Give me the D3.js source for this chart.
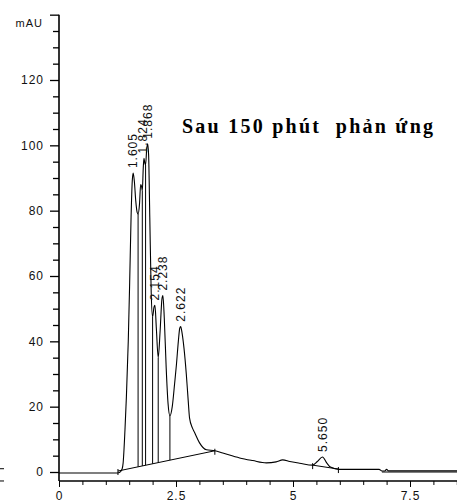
<!DOCTYPE html>
<html>
<head>
<meta charset="utf-8">
<script src="https://cdn.jsdelivr.net/npm/d3@7"></script>
<style>
  html, body { margin: 0; padding: 0; background: #fff; }
  svg { display: block; }
</style>
</head>
<body>
<div id="chart"></div>
<script>
// --- chromatogram trace (time in min, signal in mAU) ---
const traceT = [0, 1.25, 1.30, 1.35, 1.37, 1.41, 1.44, 1.48, 1.51, 1.54, 1.565, 1.585, 1.61, 1.64, 1.67, 1.69,
  1.72, 1.745, 1.77, 1.78, 1.80, 1.815, 1.835, 1.85, 1.875, 1.895, 1.915, 1.94, 1.97, 2.00, 2.03, 2.05, 2.08,
  2.12, 2.16, 2.20, 2.22, 2.25, 2.29, 2.33, 2.37, 2.42, 2.47, 2.51, 2.55, 2.58, 2.60, 2.63, 2.67, 2.72, 2.76,
  2.79, 2.85, 2.90, 3.00, 3.15, 3.33, 3.50, 3.86, 4.14, 4.43, 4.64, 4.78, 4.93, 5.14, 5.42, 5.52, 5.63, 5.72,
  5.80, 5.99, 6.84, 6.90, 6.96, 7.00, 7.04, 8.60];
const traceV = [-0.3, -0.3, -0.1, 1.0, 2.7, 13, 23, 40, 58, 78, 89, 91.5, 89, 83, 79.5, 79,
  82, 88, 87, 86, 93, 96, 94.5, 94, 99, 100.5, 97, 78, 55, 47.5, 50.5, 51, 44,
  35, 43, 53, 54, 47, 32, 21, 17.2, 20, 27, 33, 40, 44, 44.5, 42.5, 38, 30, 22,
  16.5, 13.5, 12, 9, 6.8, 6.5, 5.8, 4.3, 3.5, 2.8, 3.1, 3.7, 3.2, 2.7, 2.1, 3.2, 4.6, 2.8,
  1.5, 0.8, 0.8, 0.3, 0.3, 0.8, 0.35, 0.35];

// --- labelled peaks ---
const peakLabels = ["1.605", "1.824", "1.868", "2.154", "2.238", "2.622", "5.650"];
const peakT = [1.58, 1.795, 1.90, 2.05, 2.215, 2.60, 5.63];
const peakV = [91.5, 96, 100.5, 51, 54, 44.5, 4.6];

// --- integration baselines and drop lines ---
const baseT0 = [1.26, 5.42, 6.90];
const baseV0 = [0.3, 2.1, 0];
const baseT1 = [3.33, 5.97, 8.60];
const baseV1 = [6.5, 0.9, 0];
const dropT = [1.69, 1.78, 1.85, 2.00, 2.12, 2.37];

// --- axes ---
const yMajor = [0, 20, 40, 60, 80, 100, 120, 140];
const yMinor = d3.range(0, 141, 5).filter(d => d % 20 !== 0);
const xMajor = [0, 2.5, 5, 7.5];
const xMinor = d3.range(0, 8.6, 0.5).filter(d => d % 2.5 !== 0);
const yUnit = "mAU";
const title = "Sau 150 phút  phản ứng";

const W = 457, H = 504;
const x = d3.scaleLinear().domain([0, 7.5]).range([59, 410]);
const y = d3.scaleLinear().domain([0, 120]).range([472, 80]);
const yBottom = -2.75, yTop = 140;

const svg = d3.select("#chart").append("svg")
  .attr("width", W).attr("height", H)
  .style("font-family", "'Liberation Sans', Arial, sans-serif");

// y axis: major + minor ticks
const yAxisG = svg.append("g").attr("transform", `translate(${x(0)},0)`);
yAxisG.append("line")
  .attr("y1", y(yTop)).attr("y2", y(yBottom))
  .attr("stroke", "#000").attr("stroke-width", 1.6);
yAxisG.append("g")
  .call(d3.axisLeft(y).tickValues(yMajor).tickSize(9).tickSizeOuter(0).tickPadding(6)
    .tickFormat(d => d === 140 ? "" : d))
  .call(g => g.select(".domain").remove())
  .call(g => g.selectAll("line").attr("stroke-width", 1.3))
  .call(g => g.selectAll("text").attr("font-size", 12).attr("fill", "#111")
    .style("letter-spacing", "1px").style("font-family", "inherit"));
yAxisG.append("g")
  .call(d3.axisLeft(y).tickValues(yMinor).tickSize(6).tickSizeOuter(0).tickFormat(""))
  .call(g => g.select(".domain").remove())
  .call(g => g.selectAll("line").attr("stroke-width", 1.3));
yAxisG.append("text")
  .attr("x", -16).attr("y", y(yTop) + 12)
  .attr("text-anchor", "end")
  .attr("font-size", 11).attr("fill", "#111")
  .style("letter-spacing", "1px")
  .text(yUnit);

// x axis
const xAxisG = svg.append("g").attr("transform", `translate(0,${y(yBottom)})`);
xAxisG.append("line")
  .attr("x1", x(0)).attr("x2", W)
  .attr("stroke", "#000").attr("stroke-width", 1.3);
xAxisG.append("g")
  .call(d3.axisBottom(x).tickValues(xMajor).tickSize(6).tickSizeOuter(0).tickPadding(5)
    .tickFormat(d => String(d)))
  .call(g => g.select(".domain").remove())
  .call(g => g.selectAll("text").attr("font-size", 12).attr("fill", "#111")
    .style("letter-spacing", "1px").style("font-family", "inherit"));
xAxisG.append("g")
  .call(d3.axisBottom(x).tickValues(xMinor).tickSize(4).tickSizeOuter(0).tickFormat(""))
  .call(g => g.select(".domain").remove());

// scraps of the neighbouring plot at the left edge
svg.append("g").selectAll("line")
  .data([1, yBottom])
  .join("line")
  .attr("x1", 0).attr("x2", 4)
  .attr("y1", d => y(d)).attr("y2", d => y(d))
  .attr("stroke", "#000");

// integration baselines
const baseData = baseT0.map((t, i) => ({ t0: t, v0: baseV0[i], t1: baseT1[i], v1: baseV1[i] }));
svg.append("g").selectAll("line")
  .data(baseData)
  .join("line")
  .attr("x1", d => x(d.t0)).attr("y1", d => y(d.v0))
  .attr("x2", d => x(d.t1)).attr("y2", d => y(d.v1))
  .attr("stroke", "#000").attr("stroke-width", 1);

// start / end markers of the baselines (first two only)
const marks = baseData.slice(0, 2).flatMap(d => [{ t: d.t0, v: d.v0 }, { t: d.t1, v: d.v1 }]);
svg.append("g").selectAll("line")
  .data(marks)
  .join("line")
  .attr("x1", d => x(d.t)).attr("x2", d => x(d.t))
  .attr("y1", d => y(d.v) - 2).attr("y2", d => y(d.v) + 4)
  .attr("stroke", "#000");

// drop lines from valleys to the first baseline
const interp = (t, ts, vs) => {
  const i = d3.bisectLeft(ts, t);
  if (i <= 0) return vs[0];
  if (i >= ts.length) return vs[vs.length - 1];
  const f = (t - ts[i - 1]) / (ts[i] - ts[i - 1]);
  return vs[i - 1] + f * (vs[i] - vs[i - 1]);
};
const b0 = baseData[0];
svg.append("g").selectAll("line")
  .data(dropT)
  .join("line")
  .attr("x1", d => x(d)).attr("x2", d => x(d))
  .attr("y1", d => y(interp(d, traceT, traceV)))
  .attr("y2", d => y(b0.v0 + (d - b0.t0) / (b0.t1 - b0.t0) * (b0.v1 - b0.v0)))
  .attr("stroke", "#000").attr("stroke-width", 1);

// trace
const trace = traceT.map((t, i) => ({ t, v: traceV[i] }));
svg.append("path")
  .datum(trace)
  .attr("fill", "none")
  .attr("stroke", "#000")
  .attr("stroke-width", 1.1)
  .attr("stroke-linejoin", "round")
  .attr("d", d3.line().x(d => x(d.t)).y(d => y(d.v)).curve(d3.curveMonotoneX));

// peak labels (rotated)
svg.append("g").selectAll("text")
  .data(peakLabels.map((s, i) => ({ s, t: peakT[i], v: peakV[i] })))
  .join("text")
  .attr("transform", d => `translate(${x(d.t)},${y(d.v) - 5}) rotate(-90)`)
  .attr("dy", "0.35em")
  .attr("font-size", 12)
  .attr("fill", "#111")
  .style("letter-spacing", "1px")
  .text(d => d.s);

// title
svg.append("text")
  .attr("x", 182).attr("y", 133)
  .attr("textLength", 251).attr("lengthAdjust", "spacing")
  .style("white-space", "pre")
  .style("font-family", "'Liberation Serif', 'Times New Roman', serif")
  .style("font-weight", "bold")
  .attr("font-size", 20)
  .attr("fill", "#000")
  .text(title);
</script>
</body>
</html>
